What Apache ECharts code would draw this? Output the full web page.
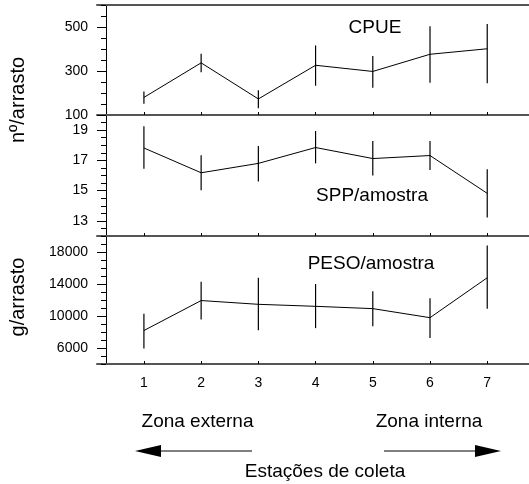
<!DOCTYPE html>
<html lang="pt">
<head>
  <meta charset="utf-8">
  <title>CPUE, SPP e PESO por estação</title>
  <script src="https://cdn.jsdelivr.net/npm/echarts@6/dist/echarts.min.js"></script>
</head>
<body style="margin: 0; background: #fff;">
  <div id="container" style="width: 529px; height: 484px;"></div>
  <script type="text/javascript">
    // estações de coleta
    var stations = [1, 2, 3, 4, 5, 6, 7];

    // CPUE (nº/arrasto)
    var cpueMean = [180, 337, 173, 326, 298, 376, 401];
    var cpueLow  = [151, 294, 131, 233, 224, 247, 244];
    var cpueHigh = [207, 378, 212, 416, 368, 503, 514];

    // SPP/amostra
    var sppMean = [17.82, 16.18, 16.8, 17.85, 17.12, 17.32, 14.82];
    var sppLow  = [16.44, 15.02, 15.61, 16.8, 16.0, 16.36, 13.22];
    var sppHigh = [19.25, 17.34, 17.95, 18.94, 18.28, 18.28, 16.42];

    // PESO/amostra (g/arrasto)
    var pesoMean = [8183, 11930, 11460, 11210, 10920, 9790, 14780];
    var pesoLow  = [5950, 9570, 8220, 8480, 8730, 7260, 10920];
    var pesoHigh = [10290, 14280, 14780, 13990, 13100, 12220, 18820];

    // rótulos dos eixos
    var cpueTicks = [100, 300, 500];
    var sppTicks = [13, 15, 17, 19];
    var pesoTicks = [6000, 10000, 14000, 18000];

    var FONT = '"Liberation Sans", Arial, sans-serif';

    function pairs(means) {
      return stations.map(function (s, i) { return [s, means[i]]; });
    }
    function bars(low, high) {
      return stations.map(function (s, i) { return [s, low[i], high[i]]; });
    }
    function renderBar(params, api) {
      var p1 = api.coord([api.value(0), api.value(1)]);
      var p2 = api.coord([api.value(0), api.value(2)]);
      return {
        type: 'line',
        shape: { x1: p1[0], y1: p1[1], x2: p2[0], y2: p2[1] },
        style: { stroke: '#000', lineWidth: 1.2 }
      };
    }
    function plain(v) { return String(v); }

    function xAx(grid, pos, labels) {
      return {
        type: 'value', gridIndex: grid, position: pos,
        min: 0.18, max: 7.73,
        axisLine: { show: true, onZero: false, lineStyle: { color: '#555', width: 2 } },
        axisTick: { show: pos === 'bottom', inside: true, length: 3, customValues: stations,
                    lineStyle: { color: '#000' } },
        axisLabel: { show: labels, customValues: stations, margin: 12, formatter: plain,
                     color: '#000', fontSize: 14, fontFamily: FONT },
        splitLine: { show: false }
      };
    }
    // eixo com traços curtos (sem rótulos)
    function yMinor(grid, min, max, step) {
      return {
        type: 'value', gridIndex: grid, position: 'left', offset: -9,
        min: min, max: max, interval: step,
        axisLine: { show: true, lineStyle: { color: '#000', width: 1 } },
        axisTick: { show: true, length: 5, lineStyle: { color: '#000' } },
        axisLabel: { show: false },
        splitLine: { show: false }
      };
    }
    // eixo com traços longos e rótulos
    function yMajor(grid, min, max, ticks) {
      return {
        type: 'value', gridIndex: grid, position: 'left', offset: -9,
        min: min, max: max,
        axisLine: { show: false },
        axisTick: { show: true, length: 9, customValues: ticks, lineStyle: { color: '#000' } },
        axisLabel: { show: true, customValues: ticks, margin: 18, formatter: plain,
                     color: '#000', fontSize: 14, fontFamily: FONT },
        splitLine: { show: false }
      };
    }

    var chart = echarts.init(document.getElementById('container'), null, { renderer: 'canvas' });

    var option = {
      animation: false,
      backgroundColor: '#fff',
      grid: [
        { left: 97, right: 0, top: 5, height: 110 },
        { left: 97, right: 0, top: 115, height: 121 },
        { left: 97, right: 0, top: 236, height: 128 }
      ],
      xAxis: [
        xAx(0, 'bottom', false),
        xAx(0, 'top', false),
        xAx(1, 'bottom', false),
        xAx(2, 'bottom', true)
      ],
      yAxis: [
        yMinor(0, 100, 600, 50),
        yMajor(0, 100, 600, cpueTicks),
        yMinor(1, 12, 20, 0.5),
        yMajor(1, 12, 20, sppTicks),
        yMinor(2, 4000, 20000, 1000),
        yMajor(2, 4000, 20000, pesoTicks)
      ],
      series: [
        { type: 'line', xAxisIndex: 0, yAxisIndex: 0, data: pairs(cpueMean), symbol: 'none',
          lineStyle: { color: '#000', width: 1 } },
        { type: 'custom', xAxisIndex: 0, yAxisIndex: 0, data: bars(cpueLow, cpueHigh),
          renderItem: renderBar, encode: { x: 0, y: [1, 2] } },
        { type: 'line', xAxisIndex: 2, yAxisIndex: 2, data: pairs(sppMean), symbol: 'none',
          lineStyle: { color: '#000', width: 1 } },
        { type: 'custom', xAxisIndex: 2, yAxisIndex: 2, data: bars(sppLow, sppHigh),
          renderItem: renderBar, encode: { x: 0, y: [1, 2] } },
        { type: 'line', xAxisIndex: 3, yAxisIndex: 4, data: pairs(pesoMean), symbol: 'none',
          lineStyle: { color: '#000', width: 1 } },
        { type: 'custom', xAxisIndex: 3, yAxisIndex: 4, data: bars(pesoLow, pesoHigh),
          renderItem: renderBar, encode: { x: 0, y: [1, 2] } }
      ],
      graphic: [
        { type: 'text', x: 375, y: 28, style: { text: 'CPUE', font: '19px ' + FONT, fill: '#000', align: 'center', verticalAlign: 'middle' } },
        { type: 'text', x: 372, y: 196, style: { text: 'SPP/amostra', font: '19px ' + FONT, fill: '#000', align: 'center', verticalAlign: 'middle' } },
        { type: 'text', x: 371, y: 264, style: { text: 'PESO/amostra', font: '19px ' + FONT, fill: '#000', align: 'center', verticalAlign: 'middle' } },
        { type: 'text', x: 18.5, y: 100, rotation: Math.PI / 2, style: { text: 'nº/arrasto', font: '20px ' + FONT, fill: '#000', align: 'center', verticalAlign: 'middle' } },
        { type: 'text', x: 18.5, y: 297, rotation: Math.PI / 2, style: { text: 'g/arrasto', font: '20px ' + FONT, fill: '#000', align: 'center', verticalAlign: 'middle' } },
        { type: 'text', x: 197.5, y: 421.5, style: { text: 'Zona externa', font: '19px ' + FONT, fill: '#000', align: 'center', verticalAlign: 'middle' } },
        { type: 'text', x: 429, y: 421.5, style: { text: 'Zona interna', font: '19px ' + FONT, fill: '#000', align: 'center', verticalAlign: 'middle' } },
        { type: 'text', x: 325, y: 471.5, style: { text: 'Estações de coleta', font: '19px ' + FONT, fill: '#000', align: 'center', verticalAlign: 'middle' } },
        // setas
        { type: 'line', shape: { x1: 158, y1: 451, x2: 252, y2: 451 }, style: { stroke: '#000', lineWidth: 1 } },
        { type: 'polygon', shape: { points: [[135, 451], [161, 445], [161, 457]] }, style: { fill: '#000' } },
        { type: 'line', shape: { x1: 384, y1: 451, x2: 477, y2: 451 }, style: { stroke: '#000', lineWidth: 1 } },
        { type: 'polygon', shape: { points: [[501, 451], [475, 445], [475, 457]] }, style: { fill: '#000' } }
      ]
    };

    chart.setOption(option);
  </script>
</body>
</html>
